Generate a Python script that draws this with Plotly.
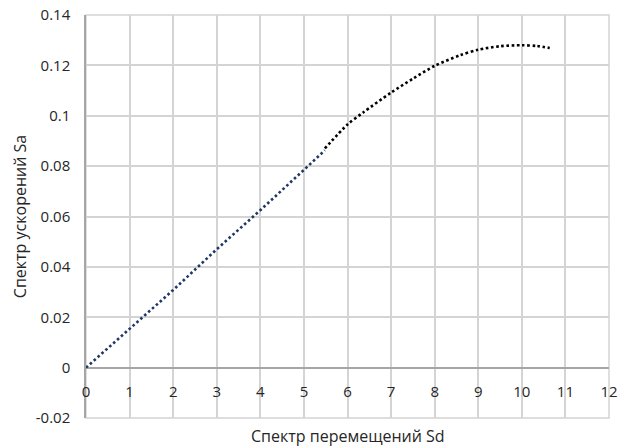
import plotly.graph_objects as go

# Linear (elastic) part of capacity spectrum
sd_linear = [0, 1, 2, 3, 4, 5, 5.48]
sa_linear = [0, 0.0152, 0.0308, 0.047, 0.0625, 0.0785, 0.0863]

# Non-linear part
sd_curve = [5.48, 6.0, 6.36, 7.0, 7.51, 8.0, 8.58, 9.0, 9.5, 10.0, 10.34, 10.64]
sa_curve = [0.0870, 0.0965, 0.1013, 0.1092, 0.1148, 0.1198, 0.1240, 0.1262, 0.1276, 0.1280, 0.1277, 0.1269]

x_ticks = list(range(0, 13))
y_ticks = [-0.02, 0, 0.02, 0.04, 0.06, 0.08, 0.1, 0.12, 0.14]
y_ticktext = ["-0.02", "0", "0.02", "0.04", "0.06", "0.08", "0.1", "0.12", "0.14"]

x_title = "Спектр перемещений Sd"
y_title = "Спектр ускорений Sa"

FONT = "Open Sans"
grid = "#d4d4d4"

fig = go.Figure()
fig.add_trace(go.Scatter(x=sd_linear, y=sa_linear, mode="lines",
                         line=dict(color="#1f3864", width=2.6, dash="2.6px,2.6px"),
                         showlegend=False, hoverinfo="skip"))
fig.add_trace(go.Scatter(x=sd_curve, y=sa_curve, mode="lines",
                         line=dict(color="#000000", width=2.6, dash="2.6px,2.6px",
                                   shape="spline", smoothing=0.8),
                         showlegend=False, hoverinfo="skip"))

fig.update_layout(
    width=633, height=448,
    margin=dict(l=86, r=24, t=15, b=30),
    paper_bgcolor="white", plot_bgcolor="white",
    font=dict(family=FONT, size=15, color="#262626"),
    xaxis=dict(range=[0, 12], tickvals=x_ticks, showgrid=True, gridcolor=grid, gridwidth=1.5,
               zeroline=False, showline=False, anchor="free", position=0.125,
               ticks="", ticklabelstandoff=13, tickfont=dict(size=15), automargin=False),
    yaxis=dict(range=[-0.02, 0.14], tickvals=y_ticks, ticktext=y_ticktext,
               showgrid=True, gridcolor=grid, gridwidth=1.5,
               zeroline=True, zerolinecolor="#a6a6a6", zerolinewidth=1.5,
               showline=True, linecolor="#a6a6a6", linewidth=1.5,
               ticks="", ticklabelstandoff=11, tickfont=dict(size=15), automargin=False,
               ticklabeloverflow="allow",
               title=dict(text=y_title, font=dict(size=16), standoff=5)),
)
# plot frame
fig.add_shape(type="rect", xref="paper", yref="paper", x0=0, x1=1, y0=0, y1=1,
              line=dict(color=grid, width=1.5), layer="below")
fig.add_annotation(text=x_title, xref="paper", yref="paper", x=0.5, y=0, yshift=-18,
                   yanchor="middle", showarrow=False, font=dict(size=16))

# remove the default 8px page margin so the figure fills the window exactly
fig.write_html("out.html", config={"displayModeBar": False},
               post_script="document.body.style.margin='0';")
